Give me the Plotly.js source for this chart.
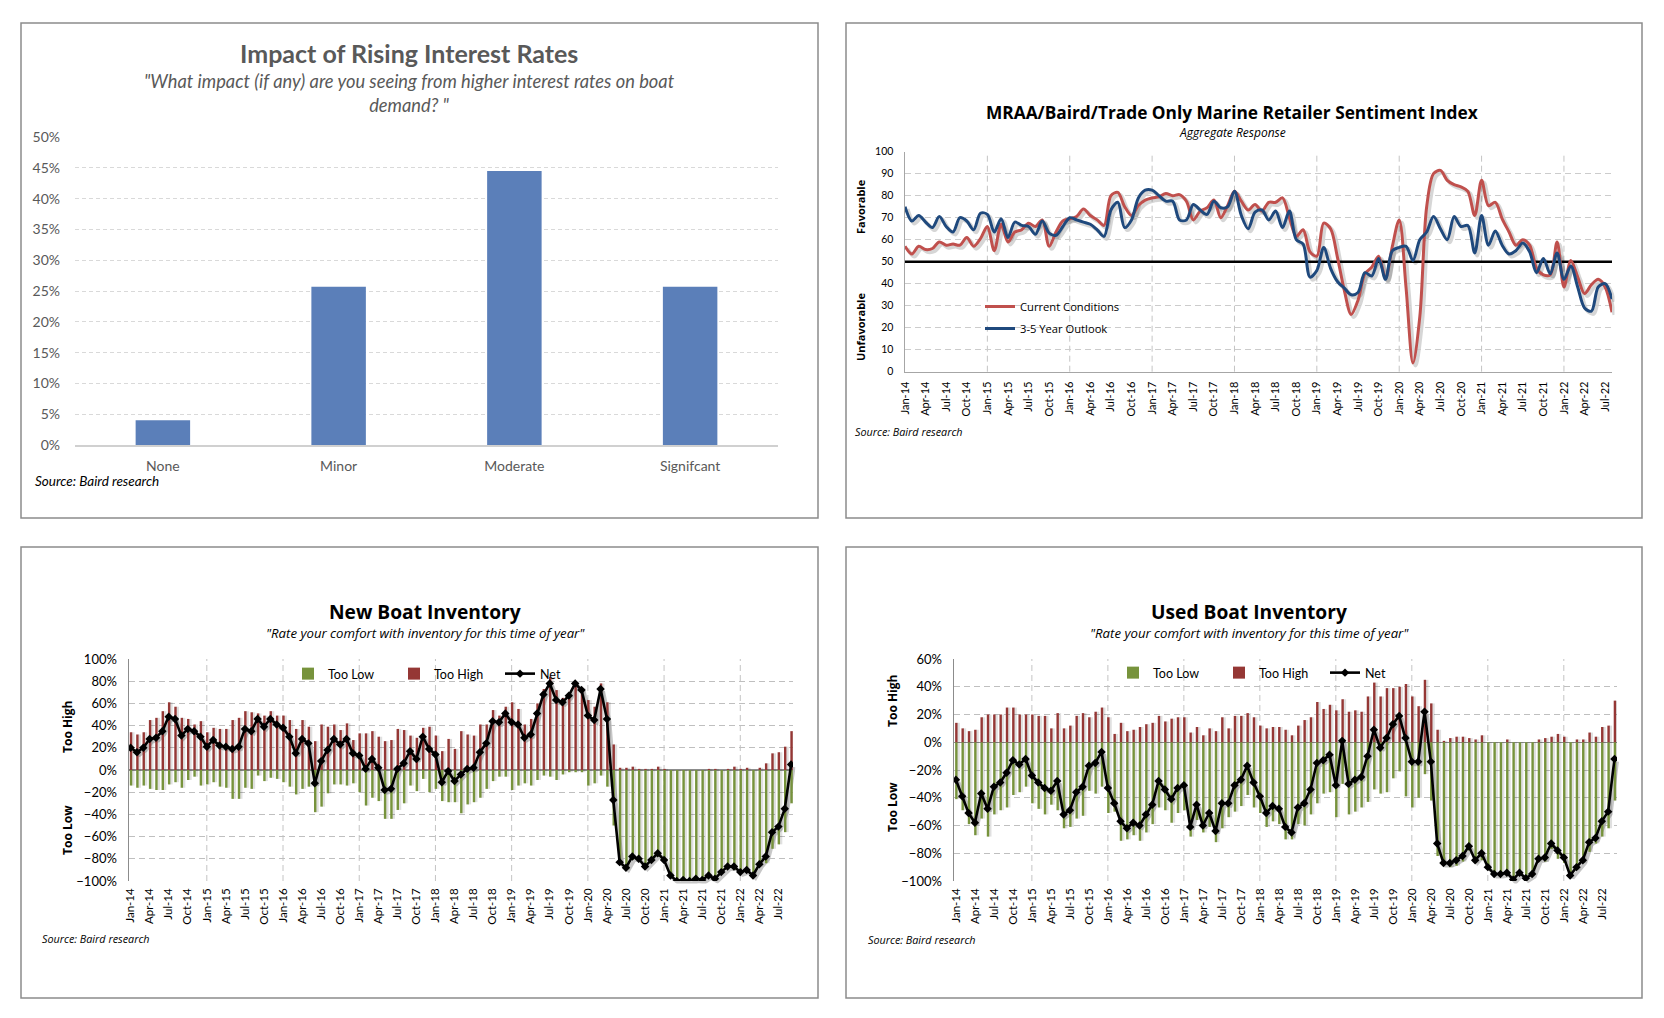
<!DOCTYPE html>
<html><head><meta charset="utf-8">
<script src="https://cdn.plot.ly/plotly-3.0.1.min.js"></script>
<style>html,body{margin:0;padding:0;background:#fff;}#chart{width:1664px;height:1018px;}</style>
</head><body><div id="chart"></div>
<script>
const W = 1664, H = 1018;

// ---------- Panel 1: Impact of Rising Interest Rates ----------
const impactCategories = ['None', 'Minor', 'Moderate', 'Signifcant'];
const impactValues = [0.040, 0.257, 0.445, 0.257];

// ---------- Month categories ----------
const monthNames = ['Jan','Feb','Mar','Apr','May','Jun','Jul','Aug','Sep','Oct','Nov','Dec'];
const yearLabels = ['14','15','16','17','18','19','20','21','22'];
const allMonths = [];
yearLabels.forEach(y => monthNames.forEach(m => allMonths.push(m + '-' + y)));
const inventoryMonths = allMonths.slice(0, 105);   // Jan-14 .. Sep-22
const sentimentMonths = allMonths.slice(0, 104);   // Jan-14 .. Aug-22
const quarterTicks = allMonths.filter((m, i) => i % 3 === 0 && i <= 102); // Jan-14 .. Jul-22
const januaryLines = ['Jan-15','Jan-16','Jan-17','Jan-18','Jan-19','Jan-20','Jan-21','Jan-22'];

// ---------- Panel 2: Sentiment index ----------
const currentConditions = [57,53.5,57,55.5,56,59,57.5,58,57.5,61,
  57,60.5,66,55,67,59,63.5,64.5,67.5,66,
  69,57,63.5,68.5,69.5,70.5,74,71,69,66.5,
  80,81.5,75,71,75.5,78,79,79.5,81,80,
  80.5,77.5,69,73,74.5,78,70,75.5,82,77.5,
  73.5,76,73,77,77,79,70,61.5,64.5,54.5,
  52.5,67.5,65,52,37,26,32.5,44.5,47.5,52.5,
  42.5,57,69,38,4,25,75,90,91.5,87,
  85,84,82,71,87,75.5,77,69.5,63.5,57.5,
  60,57.5,47,44,44,59,38.5,50.5,43,35.5,
  39.5,42,38.5,27];
const yearOutlook = [75,68.5,71,68,65.5,70.5,66,63.5,70,68.5,
  64.5,72,71.5,63.5,69.5,61,68,66.5,66,62.5,
  68.5,63,62,66,70,69,68,67,64.5,61.5,
  73.5,77,65.5,69,79,82.5,82.5,80,77.5,77.5,
  69,69,76,73.5,71.5,77.5,74.5,75,82,71,
  65,72.5,73.5,69,73,65.5,73,60,58,43,
  46,56.5,47,41,38,35,36,45,43.5,51.5,
  42,55,56.5,57,50.5,60,63.5,70.5,65,60,
  70.5,66,66.5,54,71,57.5,64,57.5,53.5,55,
  58.5,54.5,45,51.5,44.5,54,42,48,38.5,29,
  27.5,38.5,40,33];
const neutralLevel = 50;
const sentimentGridValues = [10,20,30,40,60,70,80,90,100];

// ---------- Panel 3: New Boat Inventory (%) ----------
const newTooLow = [-14,-16,-14,-17,-18,-18,-13,-11,-16,-9,
  -6,-14,-13,-11,-15,-16,-26,-26,-16,-17,
  -5,-10,-7,-8,-11,-15,-22,-17,-15,-38,
  -33,-21,-13,-13,-14,-12,-20,-32,-25,-28,
  -44,-44,-36,-30,-14,-19,-8,-20,-17,-28,
  -29,-29,-39,-31,-29,-25,-17,-10,-6,-6,
  -18,-14,-12,-14,-9,-5,-6,-9,-4,-2,
  -2,-2,-14,-12,-5,-15,-50,-85,-90,-81,
  -81,-88,-82,-78,-82,-95,-100,-99,-100,-98,
  -99,-96,-99,-92,-88,-90,-93,-92,-95,-87,
  -84,-71,-67,-56,-30];
const newTooHigh = [34,32,34,45,47,53,61,57,47,46,
  41,44,34,38,37,37,45,47,53,52,
  51,49,53,49,49,45,37,45,39,26,
  41,39,41,36,42,27,33,33,35,30,
  26,27,37,36,31,29,38,39,31,17,
  28,19,35,32,31,41,41,54,49,57,
  61,55,41,46,60,73,84,72,65,69,
  80,74,63,57,78,61,23,2,2,3,
  1,1,1,3,1,0,0,0,0,0,
  0,1,1,0,1,3,1,2,0,2,
  6,15,16,21,35];
const newNet = [20,16,20,28,29,35,48,46,31,37,
  35,30,21,27,22,21,19,21,37,35,
  46,39,46,41,38,30,15,28,24,-12,
  8,18,28,23,28,15,13,1,10,2,
  -18,-17,1,6,17,10,30,19,14,-11,
  -1,-10,-4,1,2,16,24,44,43,51,
  43,41,29,32,51,68,78,63,61,67,
  78,72,49,45,73,46,-27,-83,-88,-78,
  -80,-87,-81,-75,-81,-95,-100,-99,-100,-98,
  -99,-95,-98,-92,-87,-87,-92,-90,-95,-85,
  -78,-56,-51,-35,5];

// ---------- Panel 4: Used Boat Inventory (%) ----------
const usedTooLow = [-41,-49,-59,-67,-55,-68,-52,-49,-47,-38,
  -36,-32,-44,-48,-52,-45,-49,-62,-61,-55,
  -53,-35,-37,-32,-51,-50,-71,-70,-67,-71,
  -65,-59,-47,-49,-58,-51,-49,-68,-56,-65,
  -61,-72,-62,-54,-50,-46,-38,-47,-51,-61,
  -57,-59,-70,-70,-59,-60,-52,-44,-37,-36,
  -54,-30,-52,-50,-47,-43,-34,-37,-36,-26,
  -21,-39,-47,-40,-23,-42,-82,-88,-90,-89,
  -86,-78,-87,-85,-90,-95,-95,-96,-99,-94,
  -98,-95,-86,-86,-77,-84,-87,-96,-92,-87,
  -79,-73,-68,-62,-42];
const usedTooHigh = [14,10,8,9,18,20,20,20,25,25,
  20,20,20,19,19,10,21,10,12,19,
  21,18,22,25,18,6,14,8,9,11,
  13,14,19,15,17,18,18,7,11,5,
  10,8,18,10,19,19,21,18,12,10,
  11,11,9,5,12,16,18,29,24,27,
  23,31,22,23,22,33,43,33,39,39,
  40,42,33,26,45,28,9,1,3,4,
  4,3,2,5,0,0,0,2,0,0,
  0,0,2,3,4,6,4,0,2,2,
  7,4,11,12,30];
const usedNet = [-27,-39,-51,-58,-37,-48,-32,-29,-22,-13,
  -16,-12,-24,-29,-33,-35,-28,-52,-49,-36,
  -32,-17,-15,-7,-33,-44,-57,-62,-58,-60,
  -52,-45,-28,-34,-41,-33,-31,-61,-45,-60,
  -51,-64,-44,-44,-31,-27,-17,-29,-39,-51,
  -46,-48,-61,-65,-47,-44,-34,-15,-13,-9,
  -31,1,-30,-27,-25,-10,9,-4,3,13,
  19,3,-14,-14,22,-14,-73,-87,-87,-85,
  -82,-75,-85,-80,-90,-95,-95,-94,-99,-94,
  -98,-95,-84,-83,-73,-78,-83,-96,-90,-85,
  -72,-69,-57,-50,-12];

// ---------- helpers ----------
const fx = x => x / W;
const fy = y => 1 - y / H;
const GREEN = '#77933C', RED = '#953735', REDLINE = '#C0504D', BLUELINE = '#1F497D';
const SHADOW = 'rgba(0,0,0,0.16)';

const traces = [];

// Panel 1
traces.push({type:'bar', x:impactCategories, y:impactValues, xaxis:'x', yaxis:'y',
  marker:{color:'#5B7FB9'}, width:0.31, showlegend:false});

// Panel 2 shadows (x2/y2) and lines (x3/y3)
traces.push({type:'scatter', mode:'lines', x:sentimentMonths, y:currentConditions, xaxis:'x2', yaxis:'y2',
  line:{color:SHADOW, width:4, shape:'spline', smoothing:0.9}, showlegend:false, hoverinfo:'skip'});
traces.push({type:'scatter', mode:'lines', x:sentimentMonths, y:yearOutlook, xaxis:'x2', yaxis:'y2',
  line:{color:SHADOW, width:4, shape:'spline', smoothing:0.9}, showlegend:false, hoverinfo:'skip'});
traces.push({type:'scatter', mode:'lines', name:'Current Conditions', x:sentimentMonths, y:currentConditions,
  xaxis:'x3', yaxis:'y3', line:{color:REDLINE, width:3, shape:'spline', smoothing:0.9}, legend:'legend', legendgroup:'a'});
traces.push({type:'scatter', mode:'lines', name:'3-5 Year Outlook', x:sentimentMonths, y:yearOutlook,
  xaxis:'x3', yaxis:'y3', line:{color:BLUELINE, width:3, shape:'spline', smoothing:0.9}, legend:'legend', legendgroup:'b'});

// Panel 3/4 builder
function inventoryTraces(low, high, net, xs, ys, xm, ym, legendId) {
  traces.push({type:'scatter', mode:'lines', x:inventoryMonths, y:net, xaxis:xs, yaxis:ys,
    line:{color:'rgba(0,0,0,0.22)', width:4}, showlegend:false, hoverinfo:'skip'});
  traces.push({type:'bar', x:inventoryMonths, y:low, xaxis:xm, yaxis:ym, width:0.5, offset:0.12,
    marker:{color:'rgba(0,0,0,0.12)', line:{width:0}}, showlegend:false, hoverinfo:'skip'});
  traces.push({type:'bar', x:inventoryMonths, y:high, xaxis:xm, yaxis:ym, width:0.5, offset:0.12,
    marker:{color:'rgba(0,0,0,0.12)', line:{width:0}}, showlegend:false, hoverinfo:'skip'});
  traces.push({type:'bar', name:'Too Low', x:inventoryMonths, y:low, xaxis:xm, yaxis:ym, width:0.38, offset:-0.12,
    marker:{color:GREEN, line:{width:0}}, legend:legendId});
  traces.push({type:'bar', name:'Too High', x:inventoryMonths, y:high, xaxis:xm, yaxis:ym, width:0.38, offset:-0.12,
    marker:{color:RED, line:{width:0}}, legend:legendId});
  traces.push({type:'scatter', mode:'lines+markers', name:'Net', x:inventoryMonths, y:net, xaxis:xm, yaxis:ym,
    line:{color:'#000', width:2.6}, marker:{symbol:'diamond', size:6.5, color:'#000'}, legend:legendId});
}
inventoryTraces(newTooLow, newTooHigh, newNet, 'x4', 'y4', 'x5', 'y5', 'legend2');
inventoryTraces(usedTooLow, usedTooHigh, usedNet, 'x6', 'y6', 'x7', 'y7', 'legend3');

// ---------- axes ----------
const tickFont = {family:'Lato', size:11.5, color:'#000'};
const hidden = {visible:false, fixedrange:true};

const p2 = {x0:905, x1:1612, y0:151.7, y1:371.7};
const p3 = {x0:129, x1:793, y0:659, y1:881};
const p4 = {x0:954, x1:1617, y0:659, y1:881};
const sh = 2.5;

const layout = {
  width:W, height:H, margin:{l:0, r:0, t:0, b:0}, paper_bgcolor:'#fff', plot_bgcolor:'rgba(0,0,0,0)',
  barmode:'overlay', hovermode:false, font:{family:'Lato', color:'#000'},
  // Panel 1
  xaxis:{domain:[fx(75), fx(778)], anchor:'y', type:'category', range:[-0.5, 3.5], ticks:'',
    showline:true, linecolor:'#d0d0d0', linewidth:1.5, showgrid:false, ticklabelstandoff:8,
    tickfont:{family:'Lato', size:14, color:'#595959'}},
  yaxis:{domain:[fy(445), fy(137)], anchor:'x', range:[0, 0.5], dtick:0.05, tickformat:'.0%',
    showgrid:true, gridcolor:'#d9d9d9', griddash:'4px,3px', zeroline:false, ticks:'', ticklabelstandoff:14,
    tickfont:{family:'Lato', size:14, color:'#595959'}},
  // Panel 2 shadow
  xaxis2:Object.assign({domain:[fx(p2.x0+sh), fx(p2.x1+sh)], anchor:'y2', type:'category', range:[0, 103]}, hidden),
  yaxis2:Object.assign({domain:[fy(p2.y1+sh), fy(p2.y0+sh)], anchor:'x2', range:[0, 100]}, hidden),
  // Panel 2 main
  xaxis3:{domain:[fx(p2.x0), fx(p2.x1)], anchor:'y3', type:'category', range:[0, 103],
    tickmode:'array', tickvals:quarterTicks, ticktext:quarterTicks, tickangle:-90, ticks:'',
    showgrid:false, showline:true, linecolor:'#a6a6a6', linewidth:1.5, ticklabelstandoff:4,
    tickfont:{family:'Lato', size:11, color:'#000'}},
  yaxis3:{domain:[fy(p2.y1), fy(p2.y0)], anchor:'x3', range:[0, 100], dtick:10, ticks:'',
    showgrid:false, zeroline:false, showline:true,
    minor:{tickmode:'array', tickvals:sentimentGridValues, ticks:'', showgrid:true, gridcolor:'#cccccc', griddash:'6px,4px', gridwidth:1},
    linecolor:'#a6a6a6', linewidth:1.5, ticklabelstandoff:8, tickfont:{family:'Lato', size:10.5, color:'#000'}},
  // Panel 3 shadow + main
  xaxis4:Object.assign({domain:[fx(p3.x0+sh), fx(p3.x1+sh)], anchor:'y4', type:'category', range:[-0.25, 104.3]}, hidden),
  yaxis4:Object.assign({domain:[fy(p3.y1+sh), fy(p3.y0+sh)], anchor:'x4', range:[-100, 100]}, hidden),
  xaxis5:{domain:[fx(p3.x0), fx(p3.x1)], anchor:'y5', type:'category', range:[-0.25, 104.3],
    tickmode:'array', tickvals:quarterTicks, ticktext:quarterTicks, tickangle:-90, ticks:'',
    showgrid:false, showline:false, ticklabelstandoff:4, tickfont:tickFont},
  yaxis5:{domain:[fy(p3.y1), fy(p3.y0)], anchor:'x5', range:[-100, 100], dtick:20, ticksuffix:'%', ticks:'',
    showgrid:true, gridcolor:'#bfbfbf', griddash:'6px,4px', zeroline:true, zerolinecolor:'#8c8c8c', zerolinewidth:1.5,
    showline:true, linecolor:'#8c8c8c', linewidth:1.5, ticklabelstandoff:8, tickfont:{family:'Lato', size:13, color:'#000'}},
  // Panel 4 shadow + main
  xaxis6:Object.assign({domain:[fx(p4.x0+sh), fx(p4.x1+sh)], anchor:'y6', type:'category', range:[-0.3, 104.4]}, hidden),
  yaxis6:Object.assign({domain:[fy(p4.y1+sh), fy(p4.y0+sh)], anchor:'x6', range:[-100, 60]}, hidden),
  xaxis7:{domain:[fx(p4.x0), fx(p4.x1)], anchor:'y7', type:'category', range:[-0.3, 104.4],
    tickmode:'array', tickvals:quarterTicks, ticktext:quarterTicks, tickangle:-90, ticks:'',
    showgrid:false, showline:false, ticklabelstandoff:4, tickfont:tickFont},
  yaxis7:{domain:[fy(p4.y1), fy(p4.y0)], anchor:'x7', range:[-100, 60], dtick:20, ticksuffix:'%', ticks:'',
    showgrid:true, gridcolor:'#bfbfbf', griddash:'6px,4px', zeroline:true, zerolinecolor:'#8c8c8c', zerolinewidth:1.5,
    showline:true, linecolor:'#8c8c8c', linewidth:1.5, ticklabelstandoff:8, tickfont:{family:'Lato', size:13, color:'#000'}},
  legend:{x:fx(980), y:fy(292), xanchor:'left', yanchor:'top', bgcolor:'rgba(0,0,0,0)', itemwidth:30,
    traceorder:'grouped', tracegroupgap:3, font:{family:'Open Sans', size:11.2, color:'#000'}},
  legend2:{orientation:'h', x:fx(288), y:fy(659), xanchor:'left', yanchor:'top', bgcolor:'rgba(0,0,0,0)',
    itemwidth:30, entrywidth:61, font:{family:'Lato', size:12.5, color:'#000'}},
  legend3:{orientation:'h', x:fx(1113), y:fy(658), xanchor:'left', yanchor:'top', bgcolor:'rgba(0,0,0,0)',
    itemwidth:30, entrywidth:61, font:{family:'Lato', size:12.5, color:'#000'}},
  shapes:[], annotations:[]
};

// panel frames
[[21,23,818,518],[846,23,1642,518],[21,547,818,998],[846,547,1642,998]].forEach(b => {
  layout.shapes.push({type:'rect', xref:'paper', yref:'paper', x0:fx(b[0]), x1:fx(b[2]), y0:fy(b[3]), y1:fy(b[1]),
    line:{color:'#8c8c8c', width:1.5}, fillcolor:'rgba(0,0,0,0)', layer:'below'});
});
// yearly vertical gridlines
[['x3','y3'],['x5','y5'],['x7','y7']].forEach(([xa, ya]) => {
  januaryLines.forEach(m => layout.shapes.push({type:'line', xref:xa, yref:ya + ' domain', x0:m, x1:m, y0:0, y1:1,
    line:{color:'#c4c4c4', width:1, dash:'6px,4px'}, layer:'below'}));
});
// neutral line at 50
layout.shapes.push({type:'line', xref:'x3 domain', yref:'y3', x0:0, x1:1, y0:neutralLevel, y1:neutralLevel,
  line:{color:'#000', width:2.5}, layer:'below'});

function ann(text, x, y, font, extra) {
  layout.annotations.push(Object.assign({text:text, xref:'paper', yref:'paper', x:fx(x), y:fy(y),
    showarrow:false, xanchor:'center', yanchor:'middle', font:font}, extra || {}));
}
// Panel 1 text
ann('<b>Impact of Rising Interest Rates</b>', 409, 53, {family:'Lato', size:25, color:'#595959'});
ann('<i>"What impact (if any) are you seeing from higher interest rates on boat<br>demand? "</i>', 409, 93,
  {family:'Lato', size:18.3, color:'#595959'}, {});
ann('<i>Source: Baird research</i>', 33, 481, {family:'Lato', size:13.5, color:'#000'}, {xanchor:'left'});
// Panel 2 text
ann('<b>MRAA/Baird/Trade Only Marine Retailer Sentiment Index</b>', 1232, 113, {family:'Open Sans', size:17.3, color:'#000'});
ann('<i>Aggregate Response</i>', 1232, 133, {family:'Open Sans', size:12, color:'#000'});
ann('<b>Favorable</b>', 861, 207, {family:'Open Sans', size:11, color:'#000'}, {textangle:-90});
ann('<b>Unfavorable</b>', 861, 327, {family:'Open Sans', size:11, color:'#000'}, {textangle:-90});
ann('<i>Source: Baird research</i>', 853, 432, {family:'Open Sans', size:10.8, color:'#000'}, {xanchor:'left'});
// Panel 3 text
ann('<b>New Boat Inventory</b>', 425, 611, {family:'Open Sans', size:19.2, color:'#000'});
ann('<i>"Rate your comfort with inventory for this time of year"</i>', 425, 633, {family:'Open Sans', size:13.2, color:'#000'});
ann('<b>Too High</b>', 67, 727, {family:'Open Sans', size:12, color:'#000'}, {textangle:-90});
ann('<b>Too Low</b>', 67, 830, {family:'Open Sans', size:12, color:'#000'}, {textangle:-90});
ann('<i>Source: Baird research</i>', 40, 938, {family:'Open Sans', size:10.8, color:'#000'}, {xanchor:'left'});
// Panel 4 text
ann('<b>Used Boat Inventory</b>', 1249, 611, {family:'Open Sans', size:19.2, color:'#000'});
ann('<i>"Rate your comfort with inventory for this time of year"</i>', 1249, 633, {family:'Open Sans', size:13.2, color:'#000'});
ann('<b>Too High</b>', 892, 701, {family:'Open Sans', size:12, color:'#000'}, {textangle:-90});
ann('<b>Too Low</b>', 892, 807, {family:'Open Sans', size:12, color:'#000'}, {textangle:-90});
ann('<i>Source: Baird research</i>', 866, 939, {family:'Open Sans', size:10.8, color:'#000'}, {xanchor:'left'});

Plotly.newPlot('chart', traces, layout, {displayModeBar:false, staticPlot:true});
</script>
</body></html>
